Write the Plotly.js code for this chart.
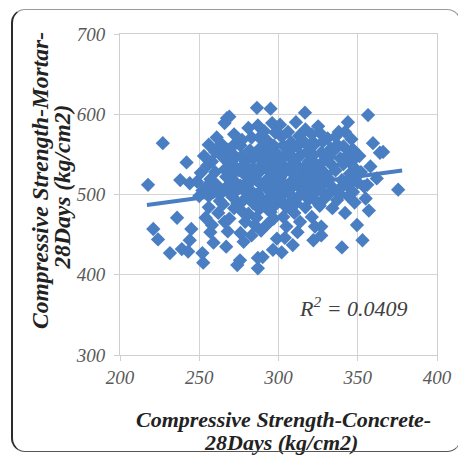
<!DOCTYPE html>
<html>
<head>
<meta charset="utf-8">
<script src="https://cdn.plot.ly/plotly-3.0.1.min.js"></script>
<style>
  html, body { margin: 0; padding: 0; background: #ffffff; }
  #wrap { position: relative; width: 458px; height: 456px; overflow: hidden; }
  #chart { position: absolute; left: 0; top: 0; width: 458px; height: 456px; }
  #frame { position: absolute; left: 11px; top: 9px; width: 450px; height: 443px;
           border-left: 2px solid #2b2b2b; border-top: 1px solid #9a9a9a;
           border-bottom: 1px solid #555; border-right: 1px solid #777;
           border-radius: 14px; pointer-events: none; box-sizing: border-box; }
</style>
</head>
<body>
<div id="wrap">
  <div id="chart"></div>
  <div id="frame"></div>
</div>
<script>
// Compressive strength of concrete (x) vs mortar (y), 28 days, kg/cm2
const concrete = [
  217.7,227,221,224,231.5,236,239,243,245,244,238,242,244,248.6,252,
  251,253,250,254,252,252.5,255,256,257,258,259,256,258,259,257,260,261,262,261,263,262,260,254,256,
  266,267.5,269,264,265,266,267,264,268,265,269,266,268,267,270,271,272,270,273,271,274,272,275,273,274,275.7,270,272,269,274,268,
  276,277,278,279,276,280,278,277,279,276,278,281,283,282,284,281,285,283,282,286,284,281,285,283,286.4,287,288,289,287,290,288,286,289,287,290,288,286,289,287,287,280,284,282,279,290,277,285,
  291,293,292,294,291,295,293,292,296,294,291,295,293,295,296,298,297,299,296,300,298,297,299,300,298,296.5,297,299,301,302,303,304,302,305,301,303,304,302,305,303,304,302,305,292,299,294,301,303,
  306,308,307,309,306,310,308,307,309,306,310,309,311,313,312,314,311,315,313,312,314,311,313.6,312,316.7,317,316,318,319,317,316,320,318,319,317,320,308,315,
  321,323,322,324,321,325,323,322,324,321,322,323,325,326,328,327,329,326,330,328,327,329,327,327,326,331,333,332,334,331,333,332,334,335,
  336,338,337,339,336,340,338,337,340,339,341,342,343.8,344,341,345,343,342,344,345,346,347,348,349,346,347,348,349.5,350,
  351,353,352,354,356,356.5,358,355,359.6,357,364,366,375.5,362
];
const mortar = [
  512,564,457,444,427,471,432,429,457,443,518,540,514,516,505,
  527,548,498,471,427,415,536,562,519,541,503,484,462,440,453,528,571,556,512,492,477,553,509,498,
  589,595,597,563,546,531,522,502,511,488,470,466,454,435,549,538,562,523,515,497,506,483,530,547,412,418,505,575,540,489,556,
  561,548,536,524,511,502,493,479,466,452,441,583,571,555,545,531,526,517,506,498,489,476,462,449,608,586,571,559,547,538,528,518,513,501,493,482,471,455,421,408,515,533,497,541,422,568,551,
  579,567,553,546,534,527,519,509,503,496,486,478,463,607,589,577,561,551,540,533,524,513,507,497,487,431,470,445,587,572,561,548,538,530,521,514,503,492,484,472,446,428,460,540,517,558,544,528,
  578,565,554,543,532,524,516,506,497,488,477,437,590,573,560,549,538,531,520,511,500,489,466,453,602,581,566,553,541,535,522,514,505,494,484,562,548,509,
  575,563,549,537,527,521,509,500,491,472,443,460,585,577,566,552,543,533,525,514,505,495,460,449,486,570,557,547,536,521,511,501,483,555,
  572,578,562,545,530,518,506,493,434,500,560,578,590,550,538,526,512,477,498,540,569,556,545,531,515,503,490,462,515,
  548,443,528,510,512,599,535,495,564,480,552,553,506,520
];
// Linear trend line endpoints (Excel-style trendline)
const trendX = [217, 378];
const trendY = [487, 530];
const xTicks = [200, 250, 300, 350, 400];
const yTicks = [300, 400, 500, 600, 700];
const xTitleLines = ['Compressive Strength-Concrete-', '28Days (kg/cm2)'];
const yTitleLines = ['Compressive Strength-Mortar-', '28Days (kg/cm2)'];
const r2Label = 'R<sup>2</sup> = 0.0409';

const blue = '#4a7ec3';
const serif = '"Liberation Serif", "Times New Roman", serif';

const traces = [
  {
    type: 'scatter', mode: 'markers', x: concrete, y: mortar,
    marker: { symbol: 'diamond', size: 11, color: blue, line: { width: 0 } },
    hoverinfo: 'x+y'
  },
  {
    type: 'scatter', mode: 'lines', x: trendX, y: trendY,
    line: { color: blue, width: 4 }, hoverinfo: 'skip'
  }
];

const axisCommon = {
  showgrid: true, gridcolor: '#d4d4d4', gridwidth: 1,
  showline: true, linecolor: '#cfcfcf', linewidth: 1, mirror: true,
  ticks: 'outside', ticklen: 5, tickcolor: '#cfcfcf',
  zeroline: false,
  tickfont: { family: serif, size: 19, color: '#595959', style: 'italic' }
};

function titleAnn(text, x, y, angle, size) {
  return { xref: 'paper', yref: 'paper', x: x, y: y, text: text, showarrow: false,
           xanchor: 'center', yanchor: 'middle', textangle: angle, borderpad: 0,
           font: { family: serif, size: size, color: '#222222', weight: 'bold', style: 'italic' } };
}

const layout = {
  width: 458, height: 456,
  margin: { l: 120, r: 21, t: 34, b: 101 },
  paper_bgcolor: '#ffffff', plot_bgcolor: '#ffffff',
  showlegend: false,
  xaxis: Object.assign({}, axisCommon, {
    range: [200, 400], tickvals: xTicks, ticktext: xTicks.map(String),
    ticklabelstandoff: 0
  }),
  yaxis: Object.assign({}, axisCommon, {
    range: [300, 700], tickvals: yTicks, ticktext: yTicks.map(String),
    ticklabelstandoff: 5
  }),
  annotations: [
    titleAnn(xTitleLines[0], 0.515, -0.1994, 0, 22),
    titleAnn(xTitleLines[1], 0.508, -0.2715, 0, 22),
    titleAnn(yTitleLines[0], -0.2524, 0.545, -90, 23.5),
    titleAnn(yTitleLines[1], -0.183, 0.525, -90, 23.5),
    {
      x: 347.6, y: 360, xref: 'x', yref: 'y', text: r2Label, showarrow: false,
      font: { family: serif, size: 22, color: '#404040', style: 'italic' }
    }
  ]
};

Plotly.newPlot('chart', traces, layout, { displayModeBar: false, staticPlot: true });
</script>
</body>
</html>
